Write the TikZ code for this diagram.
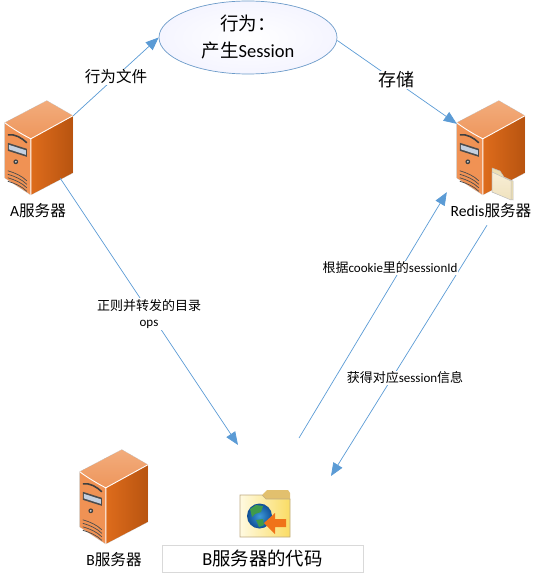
\documentclass[tikz,border=0pt]{standalone}
\usepackage{fontspec}
\setmainfont{Carlito}
\newfontfamily\cjk{Noto Sans CJK SC}
\usetikzlibrary{arrows.meta,shapes.geometric}
\definecolor{connblue}{HTML}{5B9BD5}
\definecolor{rimblue}{HTML}{6C9BC9}
\definecolor{sideL}{HTML}{DE6C1C}
\definecolor{sideR}{HTML}{B85410}
\definecolor{topT}{HTML}{F2AC7C}
\definecolor{topB}{HTML}{EE965C}
\definecolor{frontC}{HTML}{F09254}
\definecolor{paperA}{HTML}{ECDEB2}
\definecolor{paperB}{HTML}{F8EED6}
\definecolor{paperC}{HTML}{F0E2BE}
\definecolor{tabC}{HTML}{E2C06E}
\definecolor{foldL}{HTML}{FFFAE1}
\definecolor{foldR}{HTML}{FADC64}
\definecolor{foldE}{HTML}{BEAA82}
\definecolor{arrowC}{HTML}{F07319}
\definecolor{driveC}{HTML}{C4D0E0}
\definecolor{globeI}{HTML}{3E9AD8}
\definecolor{globeO}{HTML}{0F4E96}
\definecolor{landC}{HTML}{3F9A4A}
\tikzset{
conn/.style={draw=connblue,line width=.7pt,-{Triangle[length=13pt,width=10.5pt]}},
lab/.style={fill=white,inner sep=1pt,font=\fontsize{13}{16}\selectfont},
namelab/.style={inner sep=0pt,font=\fontsize{15.6}{18}\selectfont},
servercase/.style={inner sep=0pt,minimum width=68pt,minimum height=94pt},
server/.pic={
\fill[draw=black!15,line width=.8pt](0,22)--(42,0)--(68,15)--(68,72)--(26,94)--(0,77)--cycle;
\shade[left color=sideL,right color=sideR](26,38)--(68,15)--(68,72)--(26,94)--cycle;
\shade[top color=topT,bottom color=topB](0,22)--(42,0)--(68,15)--(26,38).. controls (18,34) and (8,28) ..cycle;
\fill[frontC](0,22).. controls (8,28) and (18,34) ..(26,38)--(26,94)--(0,77)--cycle;
\draw[white,line width=.9pt](0,22).. controls (8,28) and (18,34) ..(26,38)--(68,15)(26,38)--(26,94);
\draw[black!75,line width=1.6pt](3,34).. controls (10,33) and (17,37) ..(22,42);
\fill[black!70](3,42)--(22,48)--(22,56)--(3,50)--cycle;
\fill[driveC](4,44)--(21,49.5)--(21,54)--(4,48.5)--cycle;
\fill[black!75](11,61)circle(2.4pt);
\fill[black!15](11,61)circle(1pt);
\foreach\y in{0,3.5,7,10.5}{
\draw[black!70,line width=.7pt](3,70+\y).. controls (10,72+\y) and (17,75+\y) ..(22,80+\y);}
},
}
\begin{document}
\begin{tikzpicture}[x=1pt,y=-1pt]
\useasboundingbox(0,0)rectangle(541,580);
\node[servercase](srvA)at(39,148){};
\node[servercase](srvR)at(491,148){};
\node[servercase](srvB)at(114,497){};
\pic at(srvA.north west){server};
\pic at(srvR.north west){server};
\pic at(srvB.north west){server};
\shade[inner color=white,outer color=blue!4]
(248,37.5)ellipse(89pt and 36.5pt);
\node[draw=rimblue,line width=.7pt,ellipse,inner sep=0pt,minimum width=178pt,minimum height=73pt,
align=center,font=\fontsize{18.5}{27}\selectfont](act)at(248,37.5){{\cjk 行为：}\\{\cjk 产生}Session};
% small folder on the redis box
\fill[draw=black!25,line width=.5pt,fill=paperA](492,168)--(500,171)--(504,177)--(513,181)--(513,200)--(492,192)--cycle;
\shade[top color=paperB,bottom color=paperC,draw=black!25,line width=.5pt](492,172)--(511,181)--(511,200)--(492,192)--cycle;
% folder with globe
\node[inner sep=0pt,minimum width=50pt,minimum height=47pt](web)at(265,513.5){};
\fill[tabC](267,490)--(288,490)--(290,493)--(290,500)--(266,500)--(262,495)--cycle;
\shade[left color=foldL,right color=foldR,draw=foldE,line width=.6pt](240,495)--(262,495)--(266,499)--(290,499)--(290,537)--(240,537)--cycle;
\shade[inner color=globeI,outer color=globeO](259.5,516)circle(12.5pt);
\fill[landC](250,509)--(256,505)--(263,506)--(261,512)--(255,514)--(252,517)--cycle;
\fill[landC](256,520)--(263,519)--(264,525)--(259,527)--cycle;
\fill[arrowC](264,523)--(275,513)--(275,519)--(286,519)--(286,527)--(275,527)--(275,534)--cycle;
\node[draw=black!15,line width=.8pt,minimum width=201pt,minimum height=27pt,inner sep=0pt,
font=\fontsize{18.4}{20}\selectfont](code)at(262.5,558.5){B{\cjk 服务器的代码}};
\coordinate(webA)at(238,445);
\coordinate(webOut)at(299,438);
\coordinate(webIn)at(331,476);
\draw[conn]([yshift=-15pt]srvA.north east)--(act.west);
\draw[conn]([yshift=-3pt]act.east)--([yshift=-23pt]srvR.north west);
\draw[conn]([xshift=-13pt,yshift=17pt]srvA.south east)--(webA);
\draw[conn](webOut)--([xshift=-10pt,yshift=3pt]srvR.south west);
\draw[conn]([xshift=-4pt,yshift=-30pt]srvR.south)--(webIn);
\node[lab,font=\fontsize{15.6}{18}\selectfont](labFile)at(116,77){{\cjk 行为文件}};
\node[lab,font=\fontsize{18}{20}\selectfont](labStore)at(396,80){{\cjk 存储}};
\node[lab,align=center](labRule)at(149,314){{\cjk 正则并转发的目录}\\ops};
\node[lab](labCookie)at(390,268){{\cjk 根据}cookie{\cjk 里的}sessionId};
\node[lab](labInfo)at(405,378){{\cjk 获得对应}session{\cjk 信息}};
\node[namelab](nameA)at(38,211){A{\cjk 服务器}};
\node[namelab](nameR)at(491,211){Redis{\cjk 服务器}};
\node[namelab](nameB)at(114,560){B{\cjk 服务器}};
\end{tikzpicture}
\end{document}
